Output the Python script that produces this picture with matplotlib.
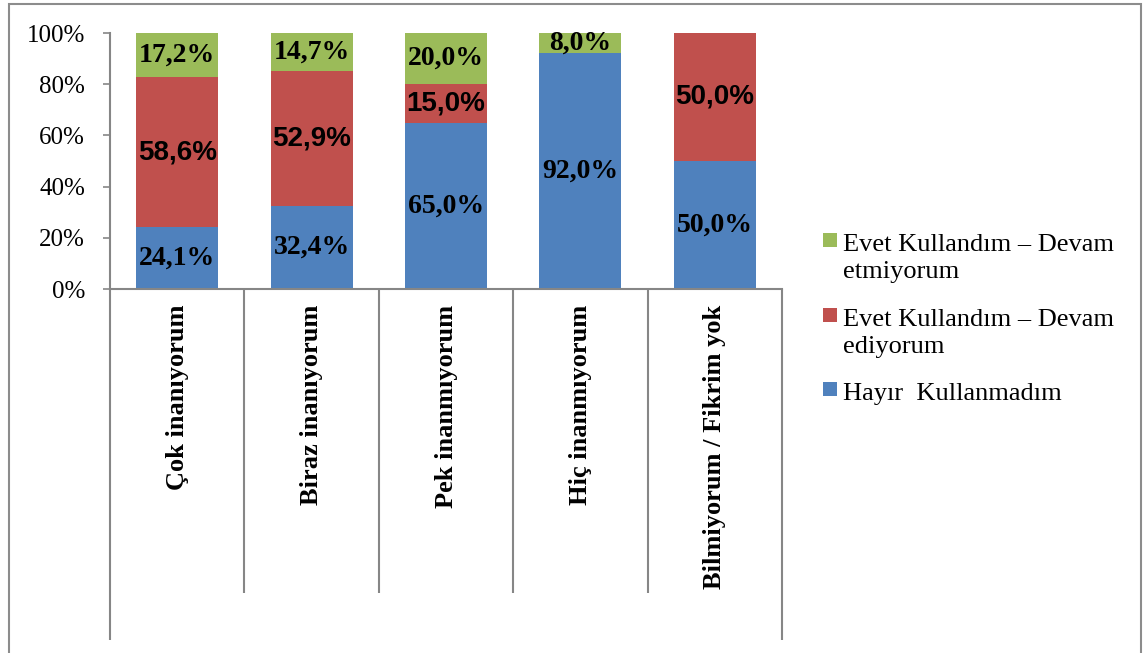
import matplotlib.pyplot as plt
from matplotlib.patches import Rectangle
from matplotlib.ticker import PercentFormatter

# Survey answers per belief category (shares in %)
categories = ['Çok inanıyorum', 'Biraz inanıyorum', 'Pek inanmıyorum',
              'Hiç inanmıyorum', 'Bilmiyorum / Fikrim yok']
hayir = [24.1, 32.4, 65.0, 92.0, 50.0]
evet_devam = [58.6, 52.9, 15.0, 0.0, 50.0]
evet_birakti = [17.2, 14.7, 20.0, 8.0, 0.0]

series_names = ['Hayır  Kullanmadım',
                'Evet Kullandım – Devam\nediyorum',
                'Evet Kullandım – Devam\netmiyorum']
colors = ['#4F81BD', '#C0504D', '#9BBB59']
label_fonts = ['Liberation Serif', 'Liberation Sans', 'Liberation Serif']

W, H = 1143, 653
fig = plt.figure(figsize=(W / 100, H / 100), dpi=100)
ax = fig.add_axes([110 / W, 1 - 289 / H, 672 / W, 256 / H])

# outer frame around the chart area
fig.patches.append(Rectangle((8.5 / W, -0.05), (1141 - 8.5) / W, 1.05 - 4.5 / H,
                             transform=fig.transFigure, fill=False,
                             edgecolor='#8c8c8c', linewidth=1.5))

x = range(len(categories))
bottom = [0.0] * len(categories)
for vals, name, col, fam in zip([hayir, evet_devam, evet_birakti],
                                series_names, colors, label_fonts):
    ax.bar(x, vals, width=0.61, bottom=bottom, color=col, label=name)
    for xi, v, b in zip(x, vals, bottom):
        if v > 0:
            ax.text(xi, b + v / 2, f'{v:.1f}%'.replace('.', ','),
                    ha='center', va='center', fontsize=20, fontweight='bold',
                    family=fam, color='black')
    bottom = [b + v for b, v in zip(bottom, vals)]

ax.set_xlim(-0.5, len(categories) - 0.5)
ax.set_ylim(0, 100)
ax.set_yticks(range(0, 101, 20))
ax.yaxis.set_major_formatter(PercentFormatter(decimals=0))
for lab in ax.get_yticklabels():
    lab.set_family('Liberation Serif')
    lab.set_fontsize(18)
ax.tick_params(axis='y', length=5, width=1.2, color='#868686', pad=13)
ax.set_xticks([])

for s in ['top', 'right']:
    ax.spines[s].set_visible(False)
for s in ['left', 'bottom']:
    ax.spines[s].set_color('#868686')
    ax.spines[s].set_linewidth(1.5)

# category separators below the axis
trans = ax.get_xaxis_transform()
inner_drop = -(593 - 289) / 256
outer_drop = -(640 - 289) / 256
for i in range(len(categories) + 1):
    edge = i - 0.5
    drop = outer_drop if i in (0, len(categories)) else inner_drop
    ax.plot([edge, edge], [0, drop], transform=trans, color='#868686',
            linewidth=1.5, clip_on=False, solid_capstyle='butt')

# rotated category labels
for xi, cat in zip(x, categories):
    ax.text(xi, -16 / 256, cat, transform=trans, rotation=90,
            ha='center', va='top', fontsize=19, fontweight='bold',
            family='Liberation Serif')

# legend, top entry first, square aligned with the first text line
for i, (name, col) in enumerate(zip(series_names[::-1], colors[::-1])):
    yc = 240 + 74.5 * i
    fig.patches.append(Rectangle((823 / W, 1 - (yc + 7) / H), 14 / W, 14 / H,
                                 transform=fig.transFigure, facecolor=col,
                                 edgecolor='none'))
    fig.text(843 / W, 1 - (yc - 6) / H, name, ha='left', va='top',
             family='Liberation Serif', fontsize=19, linespacing=1.3)

fig.savefig('out.png', dpi=100)
